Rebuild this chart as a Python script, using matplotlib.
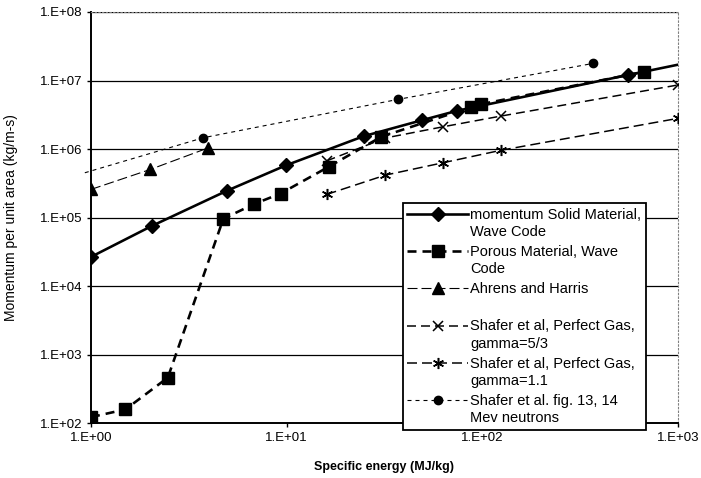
import matplotlib
matplotlib.use("Agg")
import matplotlib.pyplot as plt
import numpy as np
from matplotlib.legend_handler import HandlerLine2D
from matplotlib.ticker import FixedLocator, FuncFormatter, NullLocator

plt.rcParams['font.family'] = ['Liberation Sans', 'DejaVu Sans']
plt.rcParams['lines.scale_dashes'] = False

# momentum Solid Material, Wave Code
solid_x = [1, 2.04, 4.94, 9.9, 24.8, 49.4, 74.2, 553, 1000]
solid_y = [2.66e4, 7.5e4, 2.45e5, 5.76e5, 1.54e6, 2.64e6, 3.61e6, 1.2e7, 1.7e7]

# Porous Material, Wave Code
porous_x = [1, 1.5, 2.47, 4.75, 6.81, 9.32, 16.4, 30.5, 88, 98, 673]
porous_y = [122, 158, 460, 9.6e4, 1.57e5, 2.24e5, 5.5e5, 1.51e6, 4.1e6, 4.5e6, 1.34e7]

# Ahrens and Harris
ahrens_x = [1, 2.01, 3.98]
ahrens_y = [2.57e5, 5.03e5, 1.04e6]

# Shafer et al, Perfect Gas, gamma=5/3
g53_x = [16, 32, 63, 125, 1000]
g53_y = [6.7e5, 1.45e6, 2.11e6, 3.03e6, 8.6e6]

# Shafer et al, Perfect Gas, gamma=1.1
g11_x = [16, 32, 63, 125, 1000]
g11_y = [2.17e5, 4.16e5, 6.3e5, 9.6e5, 2.8e6]

# Shafer et al. fig. 13, 14 Mev neutrons
fig13_x = [0.93, 3.75, 37.1, 370]
fig13_y = [4.5e5, 1.46e6, 5.3e6, 1.78e7]

labels = ['momentum Solid Material,\nWave Code',
          'Porous Material, Wave\nCode',
          'Ahrens and Harris\n ',
          'Shafer et al, Perfect Gas,\ngamma=5/3',
          'Shafer et al, Perfect Gas,\ngamma=1.1',
          'Shafer et al. fig. 13, 14\nMev neutrons']

y_ticks = [1e2, 1e3, 1e4, 1e5, 1e6, 1e7, 1e8]
x_ticks = [1, 10, 100, 1000]

LEG_FS = 10.5


class TopHandler(HandlerLine2D):
    # put the legend symbol on the first line of a two-line label
    def create_artists(self, legend, orig_handle, xdescent, ydescent,
                       width, height, fontsize, trans):
        artists = super().create_artists(legend, orig_handle, xdescent, ydescent,
                                         width, height, fontsize, trans)
        for a in artists:
            a.set_ydata(np.asarray(a.get_ydata()) + 0.66 * fontsize)
        return artists


fig = plt.figure(figsize=(7.01, 4.78), dpi=100)
ax = fig.add_axes([0.1298, 0.115, 0.8372, 0.8599])
ax.set_xscale('log')
ax.set_yscale('log')
ax.set_xlim(1, 1000)
ax.set_ylim(1e2, 1e8)

for t in y_ticks:
    ax.axhline(t, color='black', lw=0.9, zorder=1)

px = 0.72  # one pixel in points
l1, = ax.plot(solid_x, solid_y, color='black', lw=2.6 * px, marker='D', ms=7,
              markevery=list(range(len(solid_x) - 1)), zorder=3)
l2, = ax.plot(porous_x, porous_y, color='black', lw=2.6 * px, marker='s', ms=8,
              dashes=(9 * px, 6 * px), zorder=3)
l3, = ax.plot(ahrens_x, ahrens_y, color='black', lw=1.1 * px, marker='^', ms=8,
              dashes=(10 * px, 4 * px), zorder=3)
l4, = ax.plot(g53_x, g53_y, color='black', lw=1.5 * px, marker='x', ms=7, mew=1.1,
              dashes=(9 * px, 5 * px), zorder=3)
l5, = ax.plot(g11_x, g11_y, color='black', lw=1.5 * px, marker=(6, 2, 0), ms=8, mew=1.1,
              dashes=(10 * px, 5 * px), zorder=3)
l6, = ax.plot(fig13_x, fig13_y, color='black', lw=1.1 * px, marker='o', ms=6,
              markevery=list(range(1, len(fig13_x))), dashes=(4 * px, 4 * px),
              clip_on=False, zorder=3)

ax.xaxis.set_major_locator(FixedLocator(x_ticks))
ax.yaxis.set_major_locator(FixedLocator(y_ticks))
ax.xaxis.set_minor_locator(NullLocator())
ax.yaxis.set_minor_locator(NullLocator())
fmt = FuncFormatter(lambda v, p: '1.E+%02d' % int(round(np.log10(v))))
ax.xaxis.set_major_formatter(fmt)
ax.yaxis.set_major_formatter(fmt)
ax.tick_params(direction='out', length=3, width=1, labelsize=9.5, pad=3.4)

for s in ['left', 'bottom']:
    ax.spines[s].set_linewidth(1.4)
for s in ['top', 'right']:
    ax.spines[s].set_linestyle(':')
    ax.spines[s].set_color('#808080')
    ax.spines[s].set_linewidth(0.8)

ax.set_xlabel('Specific energy (MJ/kg)', fontsize=9, fontweight='bold')
ax.set_ylabel('Momentum per unit area (kg/m-s)', fontsize=10)
ax.xaxis.set_label_coords(0.5, -0.093)
ax.yaxis.set_label_coords(-0.124, 0.5)

leg = ax.legend([l1, l2, l3, l4, l5, l6], labels, loc='upper left',
                bbox_to_anchor=(0.531, 0.535), fontsize=LEG_FS, frameon=True,
                fancybox=False, edgecolor='black', framealpha=1,
                handlelength=4.2, handletextpad=0.15, labelspacing=0.41,
                borderpad=0.3, borderaxespad=0,
                handler_map={l: TopHandler() for l in [l1, l2, l3, l4, l5, l6]})
for t in leg.get_texts():
    t.set_linespacing(1.3)
leg.get_frame().set_linewidth(1.3)
leg.set_zorder(5)

fig.savefig('out.png', dpi=100)
